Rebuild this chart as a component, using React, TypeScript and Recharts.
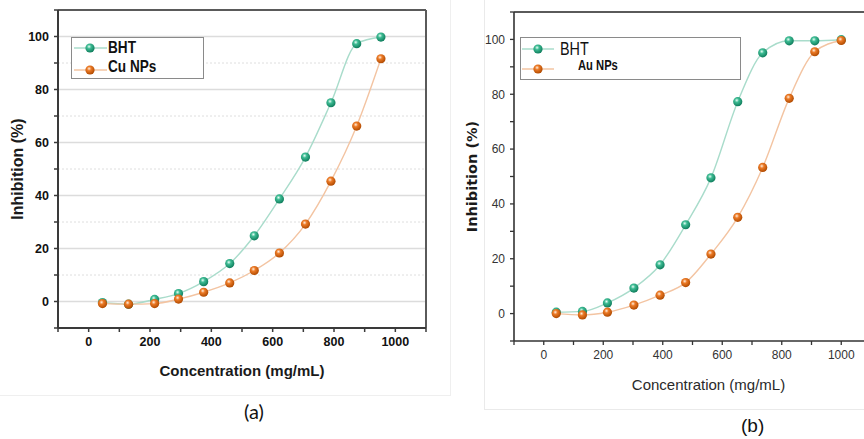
import React from 'react';
import { LineChart, Line, XAxis, YAxis, ReferenceLine, Label } from 'recharts';

// panel (a): BHT vs Cu NPs
const concA = [45, 130, 215, 293, 375, 460, 540, 622, 707, 790, 874, 953];
const bhtA = [-0.4, -1, 0.8, 3, 7.5, 14.3, 24.8, 38.7, 54.5, 75, 97.3, 99.8];
const cuA = [-0.8, -1, -0.8, 0.9, 3.5, 7, 11.7, 18.3, 29.2, 45.4, 66.2, 91.6];

// panel (b): BHT vs Au NPs
const concB = [42, 130, 214, 303, 391, 477, 562, 652, 736, 825, 911, 1000];
const bhtB = [0.5, 0.8, 3.9, 9.3, 17.8, 32.4, 49.5, 77.3, 95.1, 99.5, 99.5, 99.9];
const auB = [0, -0.5, 0.5, 3.1, 6.7, 11.3, 21.7, 35.1, 53.3, 78.5, 95.5, 99.6];

const xTicks = [-100, 0, 100, 200, 300, 400, 500, 600, 700, 800, 900, 1000, 1100];
const xLabels = [0, 200, 400, 600, 800, 1000];
const yTicks = [-10, 0, 10, 20, 30, 40, 50, 60, 70, 80, 90, 100, 110];
const yLabels = [0, 20, 40, 60, 80, 100];
const yMinor = [10, 30, 50, 70, 90];

const GREEN = '#1b9e77';
const ORANGE = '#d95f02';
const GREEN_LINE = '#a9dccb';
const ORANGE_LINE = '#f3c4a2';

const dataA = concA.map((x, i) => ({ x, bht: bhtA[i], np: cuA[i] }));
const dataB = concB.map((x, i) => ({ x, bht: bhtB[i], np: auB[i] }));

const ARIAL = '"Liberation Sans", Arial, sans-serif';

const ball = (grad: string, fallback: string) => (props: any) => {
  const { cx, cy, index } = props;
  if (cx == null || cy == null) return <g key={index} />;
  return <circle key={index} cx={cx} cy={cy} r={4.6} fill={`url(#${grad}) ${fallback}`} />;
};

const Ball = ({ grad, color }: { grad: string; color: string }) => (
  <circle cx={16} cy={6} r={4.6} fill={`url(#${grad}) ${color}`} />
);

const yTitle = (dx: number, font: string, size: number) => (props: any) => {
  const vb = props.viewBox || { x: 0, y: 0, width: 0, height: 0 };
  const cx = vb.x + dx;
  const cy = vb.y + vb.height / 2;
  return (
    <text x={cx} y={cy} transform={`rotate(-90 ${cx} ${cy})`} textAnchor="middle"
      dominantBaseline="central" fontFamily={font} fontSize={size} fontWeight="bold" fill="#1a1a1a">
      Inhibition (%)
    </text>
  );
};

const fmtX = (v: number) => (xLabels.includes(v) ? String(v) : '');
const fmtY = (v: number) => (yLabels.includes(v) ? String(v) : '');

// narrow font is not installed, so squeeze Arial horizontally
const narrow = (left: number, top: number, weight: string, size: number, text: string) => (
  <span style={{
    position: 'absolute', left, top, fontFamily: ARIAL, fontWeight: weight as any, fontSize: size,
    color: '#111', transform: 'scaleX(0.8)', transformOrigin: 'left center', whiteSpace: 'nowrap', lineHeight: '18px',
  }}>{text}</span>
);

function LegendA() {
  return (
    <div style={{ position: 'absolute', left: 71, top: 37, width: 131, height: 40, border: '1.5px solid #8a8a8a', background: '#fff' }}>
      <svg width={34} height={12} style={{ position: 'absolute', left: 2, top: 4 }}>
        <line x1={0} y1={6} x2={33} y2={6} stroke={GREEN_LINE} strokeWidth={1.5} />
        <Ball grad="gGreen" color={GREEN} />
      </svg>
      <svg width={34} height={12} style={{ position: 'absolute', left: 2, top: 26 }}>
        <line x1={0} y1={6} x2={33} y2={6} stroke={ORANGE_LINE} strokeWidth={1.5} />
        <Ball grad="gOrange" color={ORANGE} />
      </svg>
      {narrow(36, 1, 'bold', 17, 'BHT')}
      {narrow(36, 20, 'bold', 17, 'Cu NPs')}
    </div>
  );
}

function LegendB() {
  return (
    <div style={{ position: 'absolute', left: 520, top: 37, width: 219, height: 41, border: '1.5px solid #8a8a8a', background: '#fff' }}>
      <svg width={34} height={12} style={{ position: 'absolute', left: 1, top: 5 }}>
        <line x1={0} y1={6} x2={32} y2={6} stroke={GREEN_LINE} strokeWidth={1.5} />
        <Ball grad="gGreen" color={GREEN} />
      </svg>
      <svg width={34} height={12} style={{ position: 'absolute', left: 1, top: 25 }}>
        <line x1={0} y1={6} x2={32} y2={6} stroke={ORANGE_LINE} strokeWidth={1.5} />
        <Ball grad="gOrange" color={ORANGE} />
      </svg>
      {narrow(39, 2, 'normal', 18, 'BHT')}
      {narrow(57, 18, 'bold', 14, 'Au NPs')}
    </div>
  );
}

export default function App() {
  return (
    <div style={{ position: 'absolute', left: 0, top: 0, width: 864, height: 439, overflow: 'hidden', background: '#fff' }}>
      <svg width={0} height={0} style={{ position: 'absolute' }}>
        <defs>
          <radialGradient id="gGreen" cx="40%" cy="35%" r="65%">
            <stop offset="0%" stopColor="#e8fff6" />
            <stop offset="35%" stopColor="#3dbb93" />
            <stop offset="100%" stopColor="#0f7d5c" />
          </radialGradient>
          <radialGradient id="gOrange" cx="40%" cy="35%" r="65%">
            <stop offset="0%" stopColor="#fff0e0" />
            <stop offset="35%" stopColor="#ec7a26" />
            <stop offset="100%" stopColor="#b04a00" />
          </radialGradient>
        </defs>
      </svg>

      {/* faint image borders */}
      <div style={{ position: 'absolute', left: 0, top: 0, width: 450, height: 395, borderRight: '1px solid #efefef', borderBottom: '1px solid #efefef' }} />
      <div style={{ position: 'absolute', left: 484, top: 0, width: 400, height: 409, borderLeft: '1px solid #eaeaea', borderBottom: '1px solid #eaeaea' }} />

      {/* (a) */}
      <div style={{ position: 'absolute', left: 0, top: 0 }}>
        <LineChart width={440} height={400} data={dataA} margin={{ top: 10, right: 14, bottom: 22, left: 18 }}>
          {yLabels.map((v) => (
            <ReferenceLine key={'g' + v} y={v} stroke="#dcdcdc" strokeWidth={1.6} />
          ))}
          {yMinor.map((v) => (
            <ReferenceLine key={'m' + v} y={v} stroke="#dedede" strokeWidth={1} strokeDasharray="2 2" />
          ))}
          <ReferenceLine y={110} stroke="#5a5a5a" strokeWidth={2} />
          <ReferenceLine x={1100} stroke="#5a5a5a" strokeWidth={2} />
          <XAxis dataKey="x" type="number" domain={[-100, 1100]} ticks={xTicks} interval={0}
            tickFormatter={fmtX} height={50} tickSize={4} tickMargin={5}
            axisLine={{ stroke: '#3a3a3a', strokeWidth: 2 }} tickLine={{ stroke: '#3a3a3a', strokeWidth: 1.5 }}
            tick={{ fill: '#111', fontSize: 12.5, fontWeight: 'bold', fontFamily: ARIAL }}>
            <Label value="Concentration (mg/mL)" position="insideBottom" offset={2}
              style={{ fontFamily: ARIAL, fontSize: 15, fontWeight: 'bold', fill: '#1a1a1a' }} />
          </XAxis>
          <YAxis type="number" domain={[-10, 110]} ticks={yTicks} interval={0} tickFormatter={fmtY}
            width={40} tickSize={4} tickMargin={5}
            axisLine={{ stroke: '#3a3a3a', strokeWidth: 2 }} tickLine={{ stroke: '#3a3a3a', strokeWidth: 1.5 }}
            tick={{ fill: '#111', fontSize: 12.5, fontWeight: 'bold', fontFamily: ARIAL }}>
            <Label content={yTitle(-1, ARIAL, 16)} />
          </YAxis>
          <Line dataKey="bht" type="monotone" stroke={GREEN_LINE} strokeWidth={1.4} dot={ball('gGreen', GREEN)} isAnimationActive={false} />
          <Line dataKey="np" type="monotone" stroke={ORANGE_LINE} strokeWidth={1.4} dot={ball('gOrange', ORANGE)} isAnimationActive={false} />
        </LineChart>
      </div>

      {/* (b) */}
      <div style={{ position: 'absolute', left: 440, top: 0 }}>
        <LineChart width={441} height={400} data={dataB} margin={{ top: 12, right: 10, bottom: 9, left: 34 }}>
          <ReferenceLine y={110} stroke="#5a5a5a" strokeWidth={2} />
          <XAxis dataKey="x" type="number" domain={[-100, 1100]} ticks={xTicks} interval={0}
            tickFormatter={fmtX} height={50} tickSize={4} tickMargin={5}
            axisLine={{ stroke: '#333', strokeWidth: 1.6 }} tickLine={{ stroke: '#333', strokeWidth: 1.3 }}
            tick={{ fill: '#333', fontSize: 12, fontFamily: ARIAL }}>
            <Label value="Concentration (mg/mL)" position="insideBottom" offset={1} dx={16}
              style={{ fontFamily: ARIAL, fontSize: 15, fill: '#2a2a2a' }} />
          </XAxis>
          <YAxis type="number" domain={[-10, 110]} ticks={yTicks} interval={0} tickFormatter={fmtY}
            width={40} tickSize={4} tickMargin={5}
            axisLine={{ stroke: '#333', strokeWidth: 1.6 }} tickLine={{ stroke: '#333', strokeWidth: 1.3 }}
            tick={{ fill: '#333', fontSize: 12, fontFamily: ARIAL }}>
            <Label content={yTitle(-2, '"DejaVu Sans", sans-serif', 14.5)} />
          </YAxis>
          <Line dataKey="bht" type="monotone" stroke={GREEN_LINE} strokeWidth={1.4} dot={ball('gGreen', GREEN)} isAnimationActive={false} />
          <Line dataKey="np" type="monotone" stroke={ORANGE_LINE} strokeWidth={1.4} dot={ball('gOrange', ORANGE)} isAnimationActive={false} />
        </LineChart>
      </div>

      <LegendA />
      <LegendB />

      <div style={{ position: 'absolute', left: 244, top: 399, font: '20px Lato, "Open Sans", sans-serif', color: '#111' }}>(a)</div>
      <div style={{ position: 'absolute', left: 741, top: 415, font: `19px ${ARIAL}`, color: '#111' }}>(b)</div>
    </div>
  );
}
